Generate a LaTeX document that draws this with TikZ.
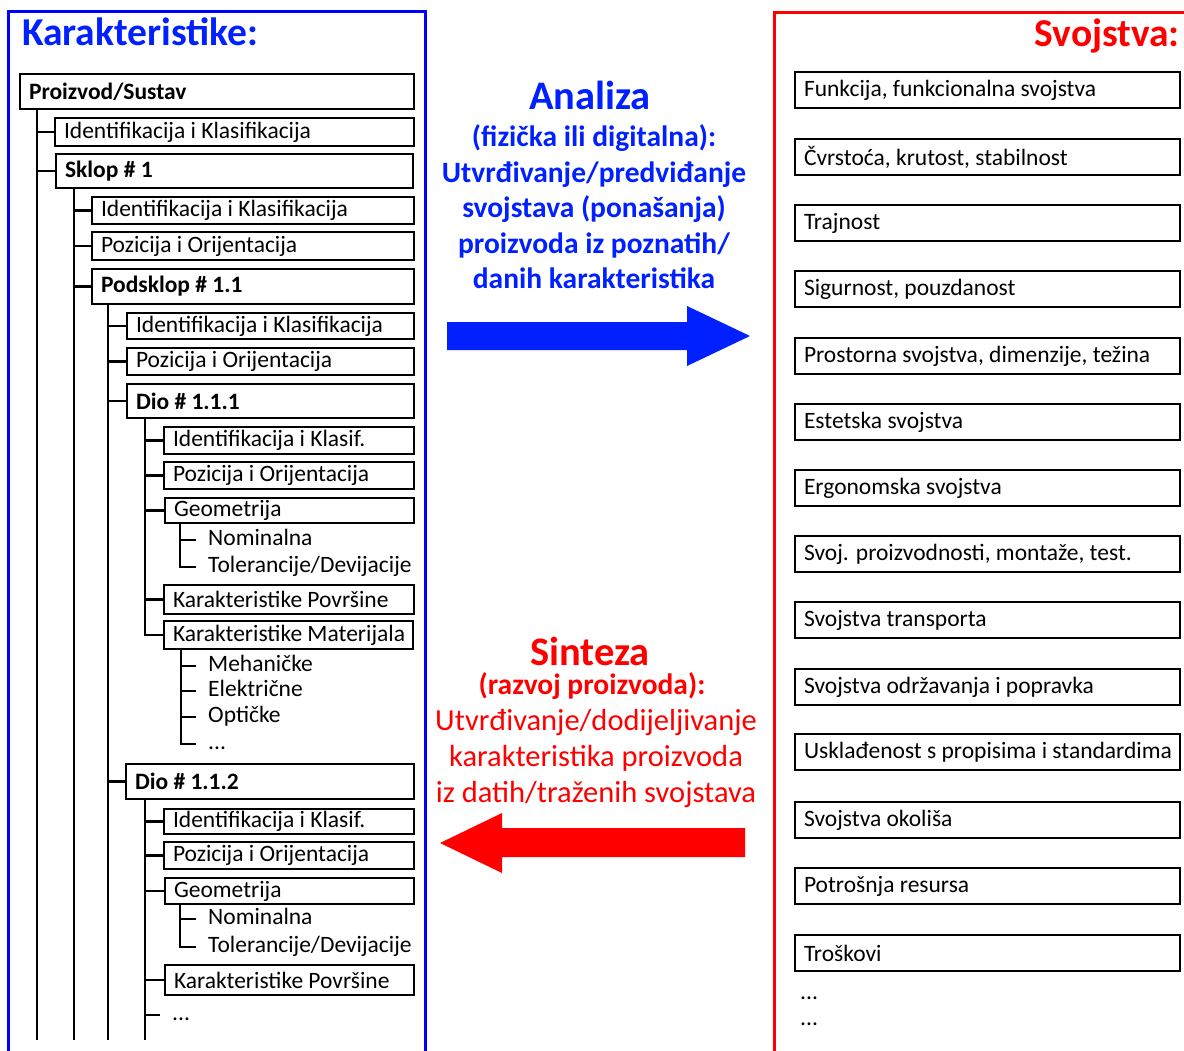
\documentclass[tikz,border=0pt]{standalone}
\usepackage{fontspec}
\setmainfont{Carlito}
\definecolor{kblue}{RGB}{0,32,255}
\definecolor{fblue}{RGB}{0,0,255}
\definecolor{kred}{RGB}{255,0,0}
\newcommand{\fsz}[1]{\fontsize{#1}{#1}\selectfont}
\newcommand{\tbox}[7]{\node[#1, minimum height=#6pt] (#2) at (#3,#4) {\makebox[\dimexpr#5pt-18pt\relax][l]{#7}};}
\newcommand{\rbox}[3]{\node[rb] (#1) at (794,#2) {\makebox[367pt][l]{#3}};}
\begin{document}
\begin{tikzpicture}[x=1pt,y=-1pt,
  tb/.style={draw, line width=2pt, anchor=north west, inner xsep=9pt, inner ysep=0pt, font=\fsz{23.5}},
  tbb/.style={tb, font=\fsz{23.5}\bfseries},
  leaf/.style={anchor=west, inner sep=0pt, text height=15pt, text depth=5pt, font=\fsz{23.5}},
  rb/.style={draw, line width=2pt, anchor=west, inner xsep=9pt, inner ysep=0pt, minimum height=36pt, font=\fsz{23.5}},
  ln/.style={line width=2.2pt},
  bl/.style={anchor=base, text=kblue, inner sep=0pt, font=\fsz{29.5}\bfseries},
  rl/.style={anchor=base, text=kred, inner sep=0pt, font=\fsz{30.5}},
]
\useasboundingbox (0,0) rectangle (1184,1051);
\clip (0,0) rectangle (1184,1051);

% frames
\draw[fblue, line width=3pt] (8.5,1060) -- (8.5,11.5) -- (425,11.5) -- (425,1060);
\draw[kred, line width=3pt] (774,1060) -- (774,13) -- (1195,13);

% titles
\node[anchor=base west, inner sep=0pt, text=kblue, font=\fsz{39.5}\bfseries] (tK) at (22,46) {Karakteristike:};
\node[anchor=base east, inner sep=0pt, text=kred, font=\fsz{39.5}\bfseries] (tS) at (1180,47) {Svojstva:};

% tree boxes
\tbox{tbb}{root}{19}{73}{394}{35}{Proizvod/Sustav}
\tbox{tb}{id1}{54}{117}{359}{28}{Identifikacija i Klasifikacija}
\tbox{tbb}{sklop}{55}{153}{357}{34}{Sklop \# 1}
\tbox{tb}{id2}{91}{196}{322}{27}{Identifikacija i Klasifikacija}
\tbox{tb}{poz2}{91}{231}{322}{28}{Pozicija i Orijentacija}
\tbox{tbb}{pods}{91}{268}{322}{35}{Podsklop \# 1.1}
\tbox{tb}{id3}{126}{312}{287}{26}{Identifikacija i Klasifikacija}
\tbox{tb}{poz3}{126}{347}{287}{27}{Pozicija i Orijentacija}
\tbox{tbb}{dio1}{126}{383}{287}{34}{Dio \# 1.1.1}
\tbox{tb}{id4}{163}{426}{250}{27}{Identifikacija i Klasif.}
\tbox{tb}{poz4}{163}{461}{250}{27}{Pozicija i Orijentacija}
\tbox{tb}{geo4}{164}{497}{249}{25}{Geometrija}
\tbox{tb}{kp4}{163}{584}{250}{29}{Karakteristike Površine}
\tbox{tb}{km4}{163}{620}{249}{28}{Karakteristike Materijala}
\tbox{tbb}{dio2}{125}{763}{288}{35}{Dio \# 1.1.2}
\tbox{tb}{id5}{163}{808}{250}{25}{Identifikacija i Klasif.}
\tbox{tb}{poz5}{163}{841}{250}{27}{Pozicija i Orijentacija}
\tbox{tb}{geo5}{164}{877}{249}{26}{Geometrija}
\tbox{tb}{kp5}{164}{964}{249}{30}{Karakteristike Površine}

% leaves
\node[leaf] (nom4) at (208,540) {Nominalna};
\node[leaf] (tol4) at (208,567) {Tolerancije/Devijacije};
\node[leaf] (meh) at (208,666) {Mehaničke};
\node[leaf] (ele) at (208,691) {Električne};
\node[leaf] (opt) at (208,717) {Optičke};
\node[leaf] (dm) at (208,744) {...};
\node[leaf] (nom5) at (208,919) {Nominalna};
\node[leaf] (tol5) at (208,947) {Tolerancije/Devijacije};
\node[leaf] (dd5) at (172,1015) {...};

% bottom ends of trunks
\coordinate (b1) at (37,1040);
\coordinate (b2) at (74,1040);
\coordinate (b3) at (108,1040);
\coordinate (b4) at (145,1040);

% connectors
\draw[ln] ([xshift=18pt]root.south west) -- (b1);
\draw[ln] ([xshift=18pt]root.south west) |- (id1.west);
\draw[ln] ([xshift=18pt]root.south west) |- (sklop.west);

\draw[ln] ([xshift=19pt]sklop.south west) -- (b2);
\draw[ln] ([xshift=19pt]sklop.south west) |- (id2.west);
\draw[ln] ([xshift=19pt]sklop.south west) |- (poz2.west);
\draw[ln] ([xshift=19pt]sklop.south west) |- (pods.west);

\draw[ln] ([xshift=17pt]pods.south west) -- (b3);
\draw[ln] ([xshift=17pt]pods.south west) |- (id3.west);
\draw[ln] ([xshift=17pt]pods.south west) |- (poz3.west);
\draw[ln] ([xshift=17pt]pods.south west) |- (dio1.west);
\draw[ln] ([xshift=17pt]pods.south west) |- (dio2.west);

\draw[ln] ([xshift=19pt]dio1.south west) |- (id4.west);
\draw[ln] ([xshift=19pt]dio1.south west) |- (poz4.west);
\draw[ln] ([xshift=19pt]dio1.south west) |- (geo4.west);
\draw[ln] ([xshift=19pt]dio1.south west) |- (kp4.west);
\draw[ln] ([xshift=19pt]dio1.south west) |- (km4.west);

\draw[ln] ([xshift=16pt]geo4.south west) |- ([xshift=-12pt]nom4.west);
\draw[ln] ([xshift=16pt]geo4.south west) |- ([xshift=-12pt]tol4.west);

\draw[ln] ([xshift=18pt]km4.south west) |- ([xshift=-12pt]meh.west);
\draw[ln] ([xshift=18pt]km4.south west) |- ([xshift=-12pt]ele.west);
\draw[ln] ([xshift=18pt]km4.south west) |- ([xshift=-12pt]opt.west);
\draw[ln] ([xshift=18pt]km4.south west) |- ([xshift=-12pt]dm.west);

\draw[ln] ([xshift=20pt]dio2.south west) -- (b4);
\draw[ln] ([xshift=20pt]dio2.south west) |- (id5.west);
\draw[ln] ([xshift=20pt]dio2.south west) |- (poz5.west);
\draw[ln] ([xshift=20pt]dio2.south west) |- (geo5.west);
\draw[ln] ([xshift=20pt]dio2.south west) |- (kp5.west);
\draw[ln] ([xshift=20pt]dio2.south west) |- ([xshift=-12pt]dd5.west);

\draw[ln] ([xshift=16pt]geo5.south west) |- ([xshift=-12pt]nom5.west);
\draw[ln] ([xshift=16pt]geo5.south west) |- ([xshift=-12pt]tol5.west);

% right boxes
\rbox{r1}{90}{Funkcija, funkcionalna svojstva}
\rbox{r2}{157}{Čvrstoća, krutost, stabilnost}
\rbox{r3}{223}{Trajnost}
\rbox{r4}{289}{Sigurnost, pouzdanost}
\rbox{r5}{356}{Prostorna svojstva, dimenzije, težina}
\rbox{r6}{422}{Estetska svojstva}
\rbox{r7}{488}{Ergonomska svojstva}
\rbox{r8}{554}{Svoj. proizvodnosti, montaže, test.}
\rbox{r9}{620}{Svojstva transporta}
\rbox{r10}{687}{Svojstva održavanja i popravka}
\rbox{r11}{752}{Usklađenost s propisima i standardima}
\rbox{r12}{820}{Svojstva okoliša}
\rbox{r13}{886}{Potrošnja resursa}
\rbox{r14}{953}{Troškovi}
\node[leaf] (rd1) at (800,994) {...};
\node[leaf] (rd2) at (800,1020) {...};

% middle: Analiza
\node[bl, text depth=0pt, font=\fsz{40.5}\bfseries] (an) at (590,110) {Analiza};
\node[bl] (a1) at (594,147) {(fizička ili digitalna):};
\node[bl] (a2) at (594,182.5) {Utvrđivanje/predviđanje};
\node[bl] (a3) at (594,218) {svojstava (ponašanja)};
\node[bl] (a4) at (594,253.5) {proizvoda iz poznatih/};
\node[bl] (a5) at (594,289) {danih karakteristika};
\fill[kblue] (447,322) -- (687,322) -- (687,306) -- (750,336) -- (687,366) -- (687,350) -- (447,350) -- cycle;

% middle: Sinteza
\node[rl, text depth=0pt, font=\fsz{40.5}\bfseries] (si) at (590,665) {Sinteza};
\node[rl, text height=20pt, font=\fsz{29.5}\bfseries] (s1) at (592,694) {(razvoj proizvoda):};
\node[rl] (s2) at (596,730) {Utvrđivanje/dodijeljivanje};
\node[rl] (s3) at (596,766) {karakteristika proizvoda};
\node[rl] (s4) at (596,802) {iz datih/traženih svojstava};
\fill[kred] (745,828) -- (502,828) -- (502,813) -- (440,843) -- (502,873) -- (502,857) -- (745,857) -- cycle;
\end{tikzpicture}
\end{document}
